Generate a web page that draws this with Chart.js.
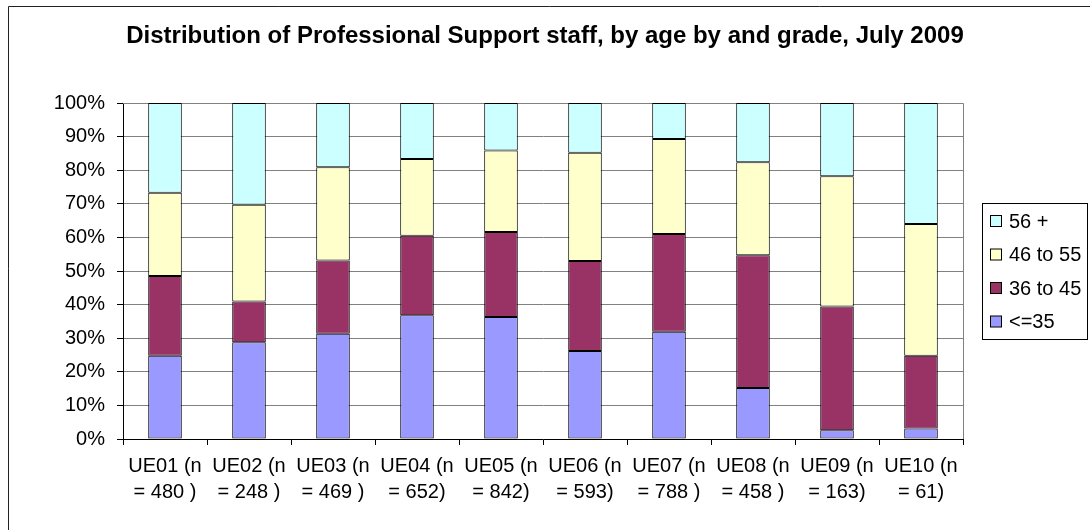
<!DOCTYPE html>
<html>
<head>
<meta charset="utf-8">
<script src="https://cdn.jsdelivr.net/npm/chart.js@4/dist/chart.umd.min.js"></script>
<style>
  html, body { margin:0; padding:0; background:#fff; }
  #wrap { width:1090px; height:530px; }
</style>
</head>
<body>
<div id="wrap"><canvas id="barChart" width="1090" height="530"></canvas></div>
<script>
// categories (two line labels)
var categories = [
  ['UE01 (n', '= 480 )'], ['UE02 (n', '= 248 )'], ['UE03 (n', '= 469 )'],
  ['UE04 (n', '= 652)'], ['UE05 (n', '= 842)'], ['UE06 (n', '= 593)'],
  ['UE07 (n', '= 788 )'], ['UE08 (n', '= 458 )'], ['UE09 (n', '= 163)'],
  ['UE10 (n', '= 61)']
];

// percentages
var upTo35   = [24.8, 28.8, 31.3, 36.8, 36.3, 26.2, 31.9, 15.2, 2.6, 3.1];
var age36_45 = [23.7, 12.1, 21.8, 23.7, 25.3, 26.8, 29.1, 39.5, 36.8, 21.7];
var age46_55 = [24.8, 28.8, 27.8, 22.8, 24.3, 32.2, 28.3, 27.7, 38.8, 39.2];
var age56    = [26.7, 30.3, 19.1, 16.7, 14.1, 14.8, 10.7, 17.6, 21.8, 36.0];

var yTicks = [0, 10, 20, 30, 40, 50, 60, 70, 80, 90, 100];

var titleText = 'Distribution of Professional Support staff, by age by and grade, July 2009';

var FONT = '"Liberation Sans", Arial, sans-serif';

// plot border, outer frame, title and boxed legend (Excel style)
var excelBits = {
  id: 'excelBits',
  beforeDatasetsDraw: function(chart) {
    var ctx = chart.ctx, a = chart.chartArea;
    ctx.save();
    ctx.strokeStyle = '#808080';
    ctx.lineWidth = 1;
    ctx.beginPath();
    ctx.moveTo(a.left, a.top + 0.5);
    ctx.lineTo(a.right + 0.5, a.top + 0.5);
    ctx.lineTo(a.right + 0.5, a.bottom);
    ctx.stroke();
    ctx.restore();
  },
  afterDraw: function(chart) {
    var ctx = chart.ctx;
    ctx.save();
    // outer frame (right/bottom fall outside the picture)
    ctx.strokeStyle = '#222';
    ctx.lineWidth = 1;
    ctx.beginPath();
    ctx.moveTo(8.5, 530);
    ctx.lineTo(8.5, 6.5);
    ctx.lineTo(1090, 6.5);
    ctx.stroke();

    // title, centred on the whole picture
    ctx.fillStyle = '#000';
    ctx.font = 'bold 24px ' + FONT;
    ctx.textAlign = 'center';
    ctx.textBaseline = 'middle';
    ctx.fillText(titleText, 545, 36);

    // legend box
    ctx.strokeStyle = '#000';
    ctx.strokeRect(982.5, 203.5, 105, 136);
    var ds = chart.data.datasets;
    ctx.font = '20px ' + FONT;
    ctx.textBaseline = 'middle';
    ctx.textAlign = 'left';
    for (var i = 0; i < ds.length; i++) {
      var d = ds[ds.length - 1 - i];
      var y = 221 + i * 33.5;
      ctx.fillStyle = d.backgroundColor;
      ctx.fillRect(990.5, y - 5.5, 11, 11);
      ctx.strokeStyle = '#000';
      ctx.strokeRect(990.5, y - 5.5, 11, 11);
      ctx.fillStyle = '#000';
      ctx.fillText(d.label, 1009, y + 1);
    }
    ctx.restore();
  }
};

var barChartCanvas = document.getElementById('barChart').getContext('2d');

var barChart = new Chart(barChartCanvas, {
  type: 'bar',
  data: {
    labels: categories,
    datasets: [
      { label: '<=35',     data: upTo35,   backgroundColor: '#9999FF' },
      { label: '36 to 45', data: age36_45, backgroundColor: '#993366' },
      { label: '46 to 55', data: age46_55, backgroundColor: '#FFFFCC' },
      { label: '56 +',     data: age56,    backgroundColor: '#CCFFFF' }
    ]
  },
  options: {
    responsive: false,
    animation: false,
    devicePixelRatio: 1,
    layout: { padding: { left: 10, right: 127, top: 103, bottom: 10 } },
    datasets: {
      bar: {
        borderColor: '#000',
        borderWidth: 1,
        borderSkipped: false,
        barPercentage: 0.4,
        categoryPercentage: 1.0
      }
    },
    plugins: {
      legend: { display: false },
      tooltip: { enabled: false },
      title: { display: false }
    },
    scales: {
      x: {
        stacked: true,
        grid: { display: true, drawOnChartArea: false, drawTicks: true, tickLength: 6, tickColor: '#000', offset: true },
        border: { color: '#000' },
        ticks: {
          color: '#000',
          font: { family: FONT, size: 20, lineHeight: 1.3 },
          padding: 8,
          maxRotation: 0,
          autoSkip: false
        },
        afterFit: function(s) { s.height = 81; }
      },
      y: {
        stacked: true,
        min: 0,
        max: 100,
        afterBuildTicks: function(s) { s.ticks = yTicks.map(function(v) { return { value: v }; }); },
        grid: { color: '#808080', tickColor: '#000', tickLength: 6 },
        border: { color: '#000' },
        ticks: {
          color: '#000',
          font: { family: FONT, size: 20 },
          padding: 12,
          callback: function(v) { return v + '%'; }
        },
        afterFit: function(s) { s.width = 113; }
      }
    }
  },
  plugins: [excelBits]
});
</script>
</body>
</html>
